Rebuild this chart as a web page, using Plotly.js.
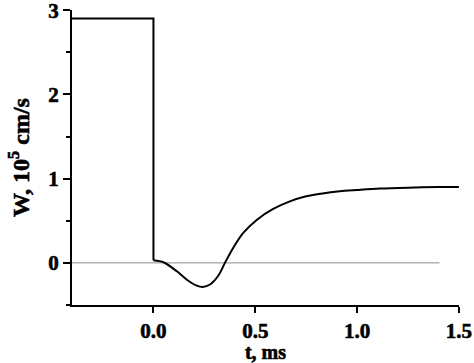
<!DOCTYPE html>
<html>
<head>
<meta charset="utf-8">
<script src="https://cdn.plot.ly/plotly-3.0.1.min.js"></script>
<style>
html,body{margin:0;padding:0;background:#fff;}
#chart{width:474px;height:363px;}
#chart text{stroke:#000;stroke-width:0.6px;}
</style>
</head>
<body>
<div id="chart"></div>
<script>
// step part: time, ms / W, 10^5 cm/s
var stepT = [-0.4, 0.0, 0.0];
var stepW = [2.9, 2.9, 0.03];
// smooth part after t = 0
var curveT = [0.0, 0.049, 0.115, 0.164, 0.213, 0.242, 0.278, 0.319, 0.351, 0.392, 0.441, 0.507, 0.588, 0.67, 0.75, 0.83, 0.915, 1.0, 1.11, 1.25, 1.4, 1.5];
var curveW = [0.03, 0.007, -0.10, -0.20, -0.27, -0.285, -0.257, -0.15, 0.0, 0.18, 0.355, 0.51, 0.64, 0.73, 0.79, 0.825, 0.85, 0.865, 0.882, 0.893, 0.90, 0.902];
// reference zero line
var zeroT = [-0.4, 1.405];
var zeroW = [0, 0];
var xTicks = [0.0, 0.5, 1.0, 1.5];
var xTickText = ["0.0", "0.5", "1.0", "1.5"];
var yTicks = [0, 1, 2, 3];
var yTickText = ["0", "1", "2", "3"];

var font = {family: "Liberation Serif, Times New Roman, serif", size: 21, color: "#000", weight: 700};
var xTitleFont = {family: "Liberation Serif, Times New Roman, serif", size: 20, color: "#000", weight: 700};
var yTitleFont = {family: "Liberation Serif, Times New Roman, serif", size: 24, color: "#000", weight: 700};
function b(s) { return "<b>" + s + "</b>"; }

var traces = [
  {x: zeroT, y: zeroW, mode: "lines", line: {color: "#8c8c8c", width: 1}, hoverinfo: "skip", showlegend: false, cliponaxis: false},
  {x: stepT, y: stepW, mode: "lines", line: {color: "#000", width: 2}, showlegend: false, cliponaxis: false},
  {x: curveT, y: curveW, mode: "lines", line: {color: "#000", width: 2, shape: "spline", smoothing: 0.8}, showlegend: false, cliponaxis: false}
];

var layout = {
  width: 474, height: 363,
  margin: {l: 72, r: 15, t: 10, b: 58},
  paper_bgcolor: "#fff", plot_bgcolor: "#fff",
  showlegend: false,
  font: font,
  xaxis: {
    range: [-0.4, 1.5005], showgrid: false, zeroline: false,
    showline: true, linecolor: "#000", linewidth: 2,
    ticks: "outside", ticklen: 6, tickwidth: 2, tickcolor: "#000",
    tickvals: xTicks, ticktext: xTickText.map(b),
    ticklabeloverflow: "allow",
    tickfont: font,
    title: {text: b("t, ms"), font: xTitleFont, standoff: 6}
  },
  yaxis: {
    range: [-0.5, 3.002], showgrid: false, zeroline: false,
    showline: true, linecolor: "#000", linewidth: 2,
    ticks: "outside", ticklen: 7, tickwidth: 2, tickcolor: "#000",
    tickvals: yTicks, ticktext: yTickText.map(b),
    ticklabeloverflow: "allow",
    minor: {dtick: 0.5, ticks: "outside", ticklen: 4, tickwidth: 2, tickcolor: "#000", showgrid: false},
    tickfont: font,
    title: {text: b("W, 10<sup>5</sup> cm/s"), font: yTitleFont, standoff: 12}
  }
};

Plotly.newPlot("chart", traces, layout, {staticPlot: true, displayModeBar: false});
</script>
</body>
</html>
